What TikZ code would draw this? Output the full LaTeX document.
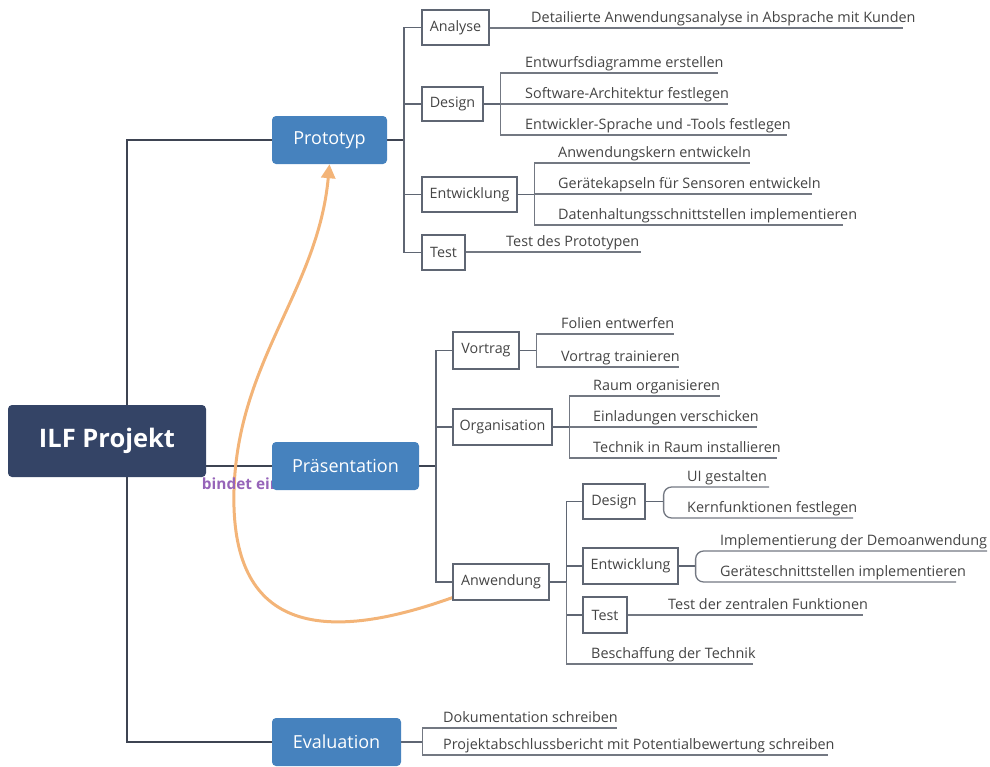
\documentclass[tikz,border=0pt]{standalone}
\usepackage{fontspec}
\setmainfont{Open Sans}
\usetikzlibrary{arrows.meta,calc}
\definecolor{rootc}{RGB}{52,68,102}
\definecolor{mainc}{RGB}{70,130,190}
\definecolor{trunkc}{RGB}{62,68,82}
\definecolor{subln}{RGB}{95,102,115}
\definecolor{leafln}{RGB}{115,120,130}
\definecolor{txtc}{RGB}{68,68,68}
\definecolor{arrc}{RGB}{243,180,120}
\definecolor{labc}{RGB}{150,100,185}
\pgfdeclarelayer{bg}
\pgfsetlayers{bg,main}
\tikzset{
  rootbox/.style={fill=rootc, rounded corners=4pt, text=white, font=\fontsize{25.5}{30}\selectfont\bfseries, minimum width=198pt, minimum height=72pt, inner sep=0pt},
  mainbox/.style={fill=mainc, rounded corners=4pt, text=white, font=\fontsize{18}{22}\selectfont, minimum height=48pt, inner sep=0pt},
  subbox/.style={draw=subln, line width=1.2pt, fill=white, text=txtc, font=\fontsize{14.3}{17}\selectfont, inner sep=0pt},
  leaf/.style={anchor=base west, inner sep=0pt, text=txtc, font=\fontsize{14.4}{17}\selectfont},
  trunk/.style={draw=trunkc, line width=2pt},
  subl/.style={draw=subln, line width=1.5pt},
  leafl/.style={draw=leafln, line width=1.3pt},
}
\newcommand\leafnode[5]{% name, text x, underline y, end x, text
  \node[leaf] (#1) at (#2,#3-6) {#5};
  \coordinate (#1-e) at (#4,#3);}
\begin{document}
\begin{tikzpicture}[x=1pt,y=-1pt]
\useasboundingbox (0,0) rectangle (990,766);
% label (below boxes, above curve)
\node[text=labc, font=\fontsize{15.4}{18}\selectfont\bfseries, inner sep=0pt] (lab) at (241,484) {bindet ein};
% main nodes
\node[rootbox] (root) at (107,441) {ILF Projekt};
\node[mainbox, minimum width=115pt] (proto) at (329.5,140) {Prototyp};
\node[mainbox, minimum width=147pt] (pres) at (345.5,466) {Präsentation};
\node[mainbox, minimum width=129pt] (eval) at (336.5,742) {Evaluation};
% sub boxes
\node[subbox, minimum width=67pt, minimum height=35pt] (analyse) at (455.5,27.5) {Analyse};
\node[subbox, minimum width=61pt, minimum height=34pt] (design) at (452.5,104) {Design};
\node[subbox, minimum width=95pt, minimum height=35pt] (entw) at (469.5,194.5) {Entwicklung};
\node[subbox, minimum width=43pt, minimum height=35pt] (test) at (443.5,252.5) {Test};
\node[subbox, minimum width=66pt, minimum height=37pt] (vortrag) at (486,350.5) {Vortrag};
\node[subbox, minimum width=99pt, minimum height=36pt] (orga) at (502.5,427) {Organisation};
\node[subbox, minimum width=96pt, minimum height=36pt] (anw) at (501,582) {Anwendung};
\node[subbox, minimum width=62pt, minimum height=35pt] (design2) at (614,501.5) {Design};
\node[subbox, minimum width=95pt, minimum height=36pt] (entw2) at (630.5,566) {Entwicklung};
\node[subbox, minimum width=44pt, minimum height=36pt] (test2) at (605,615) {Test};
% leaves
\leafnode{an1}{531}{28}{903}{Detailierte Anwendungsanalyse in Absprache mit Kunden}
\leafnode{de1}{525}{73}{718}{Entwurfsdiagramme erstellen}
\leafnode{de2}{525}{104}{728}{Software-Architektur festlegen}
\leafnode{de3}{525}{135}{787}{Entwickler-Sprache und -Tools festlegen}
\leafnode{en1}{558}{163}{750}{Anwendungskern entwickeln}
\leafnode{en2}{558}{194}{812}{Gerätekapseln für Sensoren entwickeln}
\leafnode{en3}{558}{225}{843}{Datenhaltungsschnittstellen implementieren}
\leafnode{te1}{506}{252}{641}{Test des Prototypen}
\leafnode{vo1}{561}{334}{674}{Folien entwerfen}
\leafnode{vo2}{561}{367}{679}{Vortrag trainieren}
\leafnode{or1}{593}{396}{720}{Raum organisieren}
\leafnode{or2}{593}{427}{757}{Einladungen verschicken}
\leafnode{or3}{593}{458}{777}{Technik in Raum installieren}
\leafnode{be1}{591}{664}{753}{Beschaffung der Technik}
\leafnode{ui1}{687}{487}{769}{UI gestalten}
\leafnode{ui2}{687}{518}{853}{Kernfunktionen festlegen}
\leafnode{im1}{720}{551}{987}{Implementierung der Demoanwendung}
\leafnode{im2}{720}{582}{956}{Geräteschnittstellen implementieren}
\leafnode{tz1}{668}{615}{863}{Test der zentralen Funktionen}
\leafnode{ev1}{443}{728}{617}{Dokumentation schreiben}
\leafnode{ev2}{443}{755}{828}{Projektabschlussbericht mit Potentialbewertung schreiben}
\begin{pgfonlayer}{bg}
% trunk
\coordinate (tx) at (127,0);
\draw[trunk] (root.north -| tx) |- (proto.west);
\draw[trunk] (root.south -| tx) |- (eval.west);
\draw[trunk] (root.east |- pres.west) -- (pres.west);
% Prototyp
\path (proto.east) ++(17,0) coordinate (pj);
\draw[trunk] (proto.east) -- (pj);
\draw[subl] (pj) |- (analyse.west);
\draw[subl] (pj) |- (design.west);
\draw[subl] (pj) |- (entw.west);
\draw[subl] (pj) |- (test.west);
\draw[leafl] (analyse.east |- an1-e) -- (an1-e);
\path (design.east) ++(17,0) coordinate (dj);
\draw[subl] (design.east) -- (dj);
\foreach \l in {de1,de2,de3} \draw[leafl] (dj) |- (\l-e);
\path (entw.east) ++(17,0) coordinate (ej);
\draw[subl] (entw.east) -- (ej);
\foreach \l in {en1,en2,en3} \draw[leafl] (ej) |- (\l-e);
\draw[leafl] (test.east |- te1-e) -- (te1-e);
% Praesentation
\path (pres.east) ++(17,0) coordinate (prj);
\draw[trunk] (pres.east) -- (prj);
\draw[subl] (prj) |- (vortrag.west);
\draw[subl] (prj) |- (orga.west);
\draw[subl] (prj) |- (anw.west);
\path (vortrag.east) ++(17,0) coordinate (vj);
\draw[subl] (vortrag.east) -- (vj);
\foreach \l in {vo1,vo2} \draw[leafl] (vj) |- (\l-e);
\path (orga.east) ++(17,0) coordinate (oj);
\draw[subl] (orga.east) -- (oj);
\foreach \l in {or1,or2,or3} \draw[leafl] (oj) |- (\l-e);
\path (anw.east) ++(17,0) coordinate (aj);
\draw[subl] (anw.east) -- (aj);
\draw[subl] (aj) |- (design2.west);
\draw[subl] (aj) |- (entw2.west);
\draw[subl] (aj) |- (test2.west);
\draw[leafl] (aj) |- (be1-e);
\path (design2.east) ++(18,0) coordinate (d2j);
\draw[subl] (design2.east) -- (d2j);
\foreach \l in {ui1,ui2} \draw[leafl, rounded corners=8pt] (d2j) |- (\l-e);
\path (entw2.east) ++(17,0) coordinate (e2j);
\draw[subl] (entw2.east) -- (e2j);
\foreach \l in {im1,im2} \draw[leafl, rounded corners=8pt] (e2j) |- (\l-e);
\draw[leafl] (test2.east |- tz1-e) -- (tz1-e);
% Evaluation
\path (eval.east) ++(21,0) coordinate (vj2);
\draw[subl] (eval.east) -- (vj2);
\foreach \l in {ev1,ev2} \draw[leafl] (vj2) |- (\l-e);
% relation arrow
\draw[arrc, line width=3pt, -{Triangle[length=14pt,width=14pt]}]
  ($(anw.south west)+(0,-3)$) .. controls (320,645) and (230,630) .. (234,490)
  .. controls (238,360) and (318,290) .. (proto.south);
\end{pgfonlayer}
\end{tikzpicture}
\end{document}
